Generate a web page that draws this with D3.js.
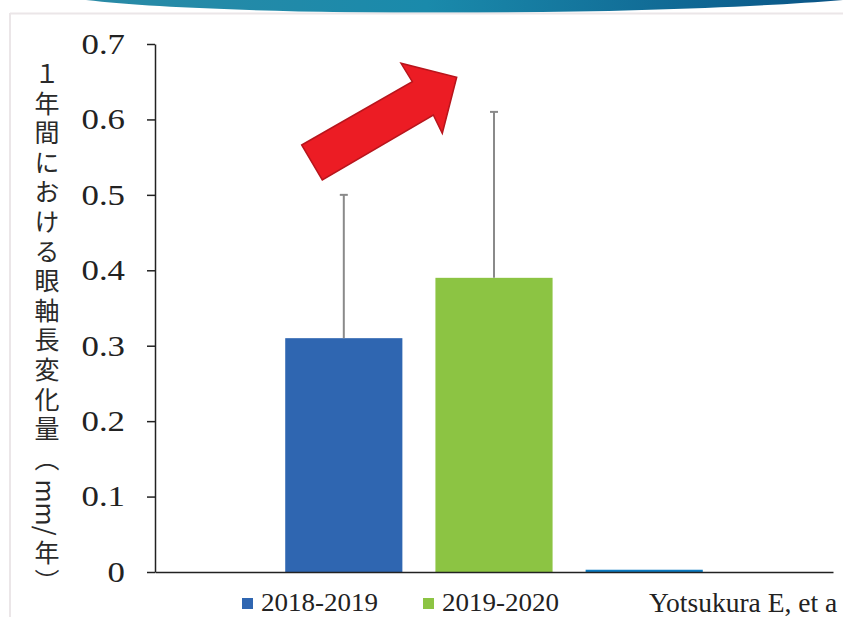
<!DOCTYPE html>
<html>
<head>
<meta charset="utf-8">
<script src="https://cdn.jsdelivr.net/npm/d3@7"></script>
<style>
  html, body { margin: 0; padding: 0; background: #fff; overflow: hidden; }
  svg { display: block; }
  svg text.serif { font-family: "Liberation Serif", "Times New Roman", serif !important; }
  svg text.jp { font-family: "Noto Sans CJK JP", sans-serif; }
</style>
</head>
<body>
<svg id="chart" width="843" height="617"></svg>
<script>
// ---- data ----
const categories = ["2018-2019", "2019-2020", "other"];
const values = [0.31, 0.39, 0.003];
const errorTops = [0.50, 0.61, null];
const legendLabels = ["2018-2019", "2019-2020"];
const yTicks = [0, 0.1, 0.2, 0.3, 0.4, 0.5, 0.6, 0.7];
const yLabelParts = ["１年間における眼軸長変化量（", "mm/", "年）"];
const citation = "Yotsukura E, et a";

// ---- styles ----
const colors = ["#2f66b1", "#8cc443", "#0c7bc1"];
const W = 843, H = 617;
const plot = { left: 155, right: 833, top: 44, bottom: 572 };

const svg = d3.select("#chart");

// background banner
const defs = svg.append("defs");
const grad = defs.append("linearGradient").attr("id", "banner").attr("x1", "0").attr("x2", "1");
grad.append("stop").attr("offset", "0%").attr("stop-color", "#2a8aa6");
grad.append("stop").attr("offset", "45%").attr("stop-color", "#1a8aab");
grad.append("stop").attr("offset", "100%").attr("stop-color", "#0a5486");
svg.append("path").attr("d", "M86,0 C230,17 640,17 843,0 Z").attr("fill", "url(#banner)");
svg.append("line").attr("x1", 10).attr("x2", W).attr("y1", 13.5).attr("y2", 13.5)
  .attr("stroke", "#ebe6e8").attr("stroke-width", 2);
svg.append("line").attr("x1", 10).attr("x2", 10).attr("y1", 13).attr("y2", H)
  .attr("stroke", "#ebe6e8").attr("stroke-width", 2);

// scales
const y = d3.scaleLinear().domain([0, 0.7]).range([plot.bottom, plot.top]);
const x = d3.scaleBand().domain(categories).range([plot.left, plot.right])
  .paddingInner(0.22).paddingOuter(0.867);

// bars
svg.append("g").selectAll("rect").data(values).join("rect")
  .attr("x", (d, i) => x(categories[i]))
  .attr("width", x.bandwidth())
  .attr("y", d => y(d))
  .attr("height", d => Math.max(y(0) - y(d), 2))
  .attr("fill", (d, i) => colors[i]);

// error bars
const eb = svg.append("g").attr("stroke", "#8a8a8a").attr("stroke-width", 2);
values.forEach((v, i) => {
  if (errorTops[i] == null) return;
  const cx = x(categories[i]) + x.bandwidth() / 2;
  eb.append("line").attr("x1", cx).attr("x2", cx).attr("y1", y(v)).attr("y2", y(errorTops[i]));
  eb.append("line").attr("x1", cx - 4).attr("x2", cx + 4).attr("y1", y(errorTops[i])).attr("y2", y(errorTops[i]));
});

// y axis
const yAxis = svg.append("g").attr("transform", `translate(${plot.left},0)`)
  .call(d3.axisLeft(y).tickValues(yTicks).tickSize(8).tickSizeOuter(0).tickPadding(22)
    .tickFormat(d => d === 0 ? "0" : d3.format(".1f")(d)));
yAxis.attr("font-family", null);
yAxis.select(".domain").attr("stroke", "#222").attr("stroke-width", 1.5);
yAxis.selectAll(".tick line").attr("stroke", "#222").attr("stroke-width", 1.5);
yAxis.selectAll(".tick text")
  .attr("class", "serif")
  .attr("fill", "#222")
  .style("font-family", "\"Liberation Serif\"")
  .style("font-size", "29px")
  .attr("transform", "translate(-30,0) scale(1.2,1)")
  .attr("x", 0);

// x axis
const xAxis = svg.append("g").attr("transform", `translate(0,${plot.bottom})`)
  .call(d3.axisBottom(x).tickSize(0).tickSizeOuter(0).tickFormat(""));
xAxis.select(".domain").attr("stroke", "#222").attr("stroke-width", 1.5);

// y label (vertical, built from parts: upright CJK + rotated latin)
const labX = 47, labFont = 25, labSpacing = 4.6;
let cursor = 61;
yLabelParts.forEach((part, i) => {
  if (i === 1) {
    const t = svg.append("text").attr("class", "jp")
      .style("font-size", labFont + "px").attr("fill", "#2a2a2a")
      .attr("dominant-baseline", "central")
      .text(part);
    const w = t.node().getComputedTextLength();
    t.attr("transform", `translate(${labX},${cursor + 4}) rotate(90)`);
    cursor += w + 8;
  } else {
    const t = svg.append("text").attr("class", "jp")
      .attr("x", labX).attr("y", cursor)
      .style("writing-mode", "vertical-rl")
      .style("font-size", labFont + "px")
      .style("letter-spacing", labSpacing + "px")
      .attr("fill", "#2a2a2a")
      .text(part);
    const bb = t.node().getBBox();
    cursor += bb.height;
  }
});

// red arrow annotation
const arrow = [[301.7,145],[412.3,81.7],[401,63.3],[456.7,77.3],[442.3,133.3],[433.3,115],[322.3,180]];
svg.append("path").attr("d", d3.line()(arrow) + "Z")
  .attr("fill", "#ec1c24").attr("stroke", "#b8151c").attr("stroke-width", 1.5);

// legend
const lg = svg.append("g");
legendLabels.forEach((lab, i) => {
  const lx = [242, 423][i];
  lg.append("rect").attr("x", lx).attr("y", 598).attr("width", 11).attr("height", 11).attr("fill", colors[i]);
  lg.append("text").attr("class", "serif").attr("x", lx + 19).attr("y", 611)
    .style("font-size", "25px")
    .attr("textLength", 117).attr("lengthAdjust", "spacingAndGlyphs")
    .attr("fill", "#222").text(lab);
});

// citation
svg.append("text").attr("class", "serif").attr("x", 649).attr("y", 612)
  .style("font-size", "27.5px")
  .attr("fill", "#222").text(citation);
</script>
</body>
</html>
